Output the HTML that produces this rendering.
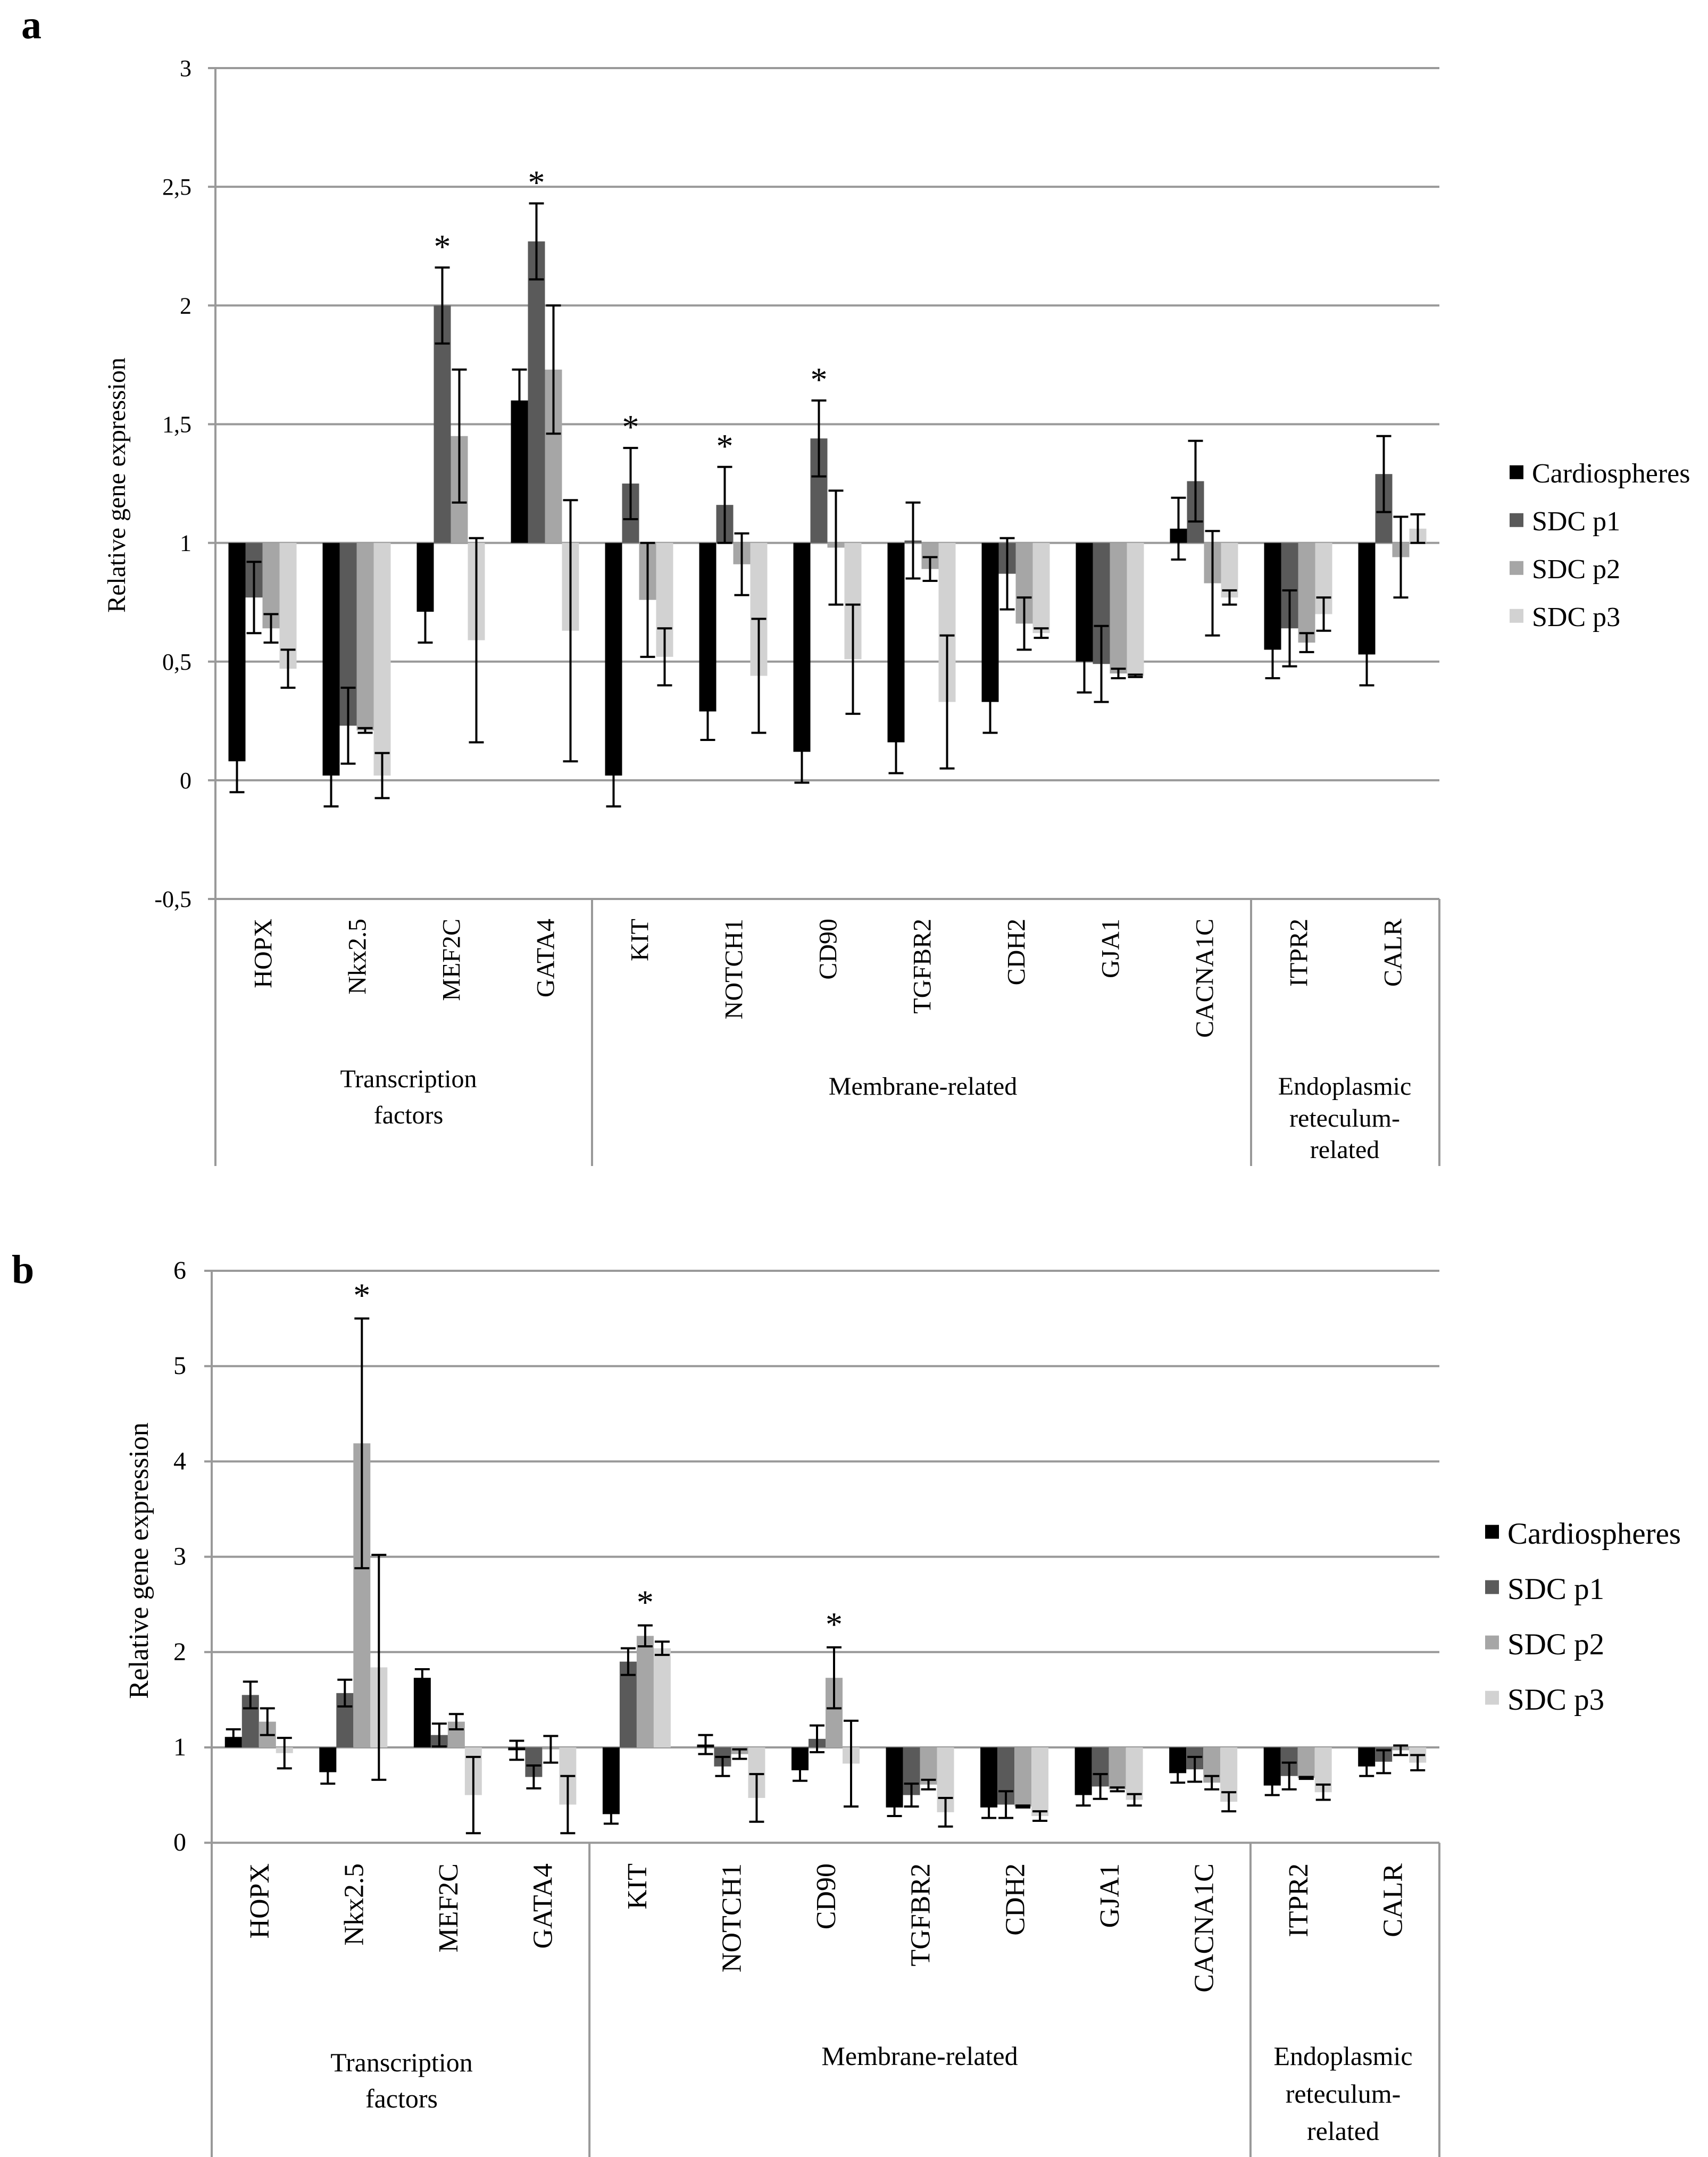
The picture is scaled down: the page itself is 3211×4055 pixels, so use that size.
<!DOCTYPE html>
<html><head><meta charset="utf-8">
<style>
html,body{margin:0;padding:0;background:#fff;}
svg{display:block;font-family:"Liberation Serif",serif;}
</style></head>
<body>
<svg id="fig" width="3211" height="4055" viewBox="0 0 3211 4055" xmlns="http://www.w3.org/2000/svg"></svg>
<script>
const categories = ["HOPX","Nkx2.5","MEF2C","GATA4","KIT","NOTCH1","CD90","TGFBR2","CDH2","GJA1","CACNA1C","ITPR2","CALR"];
const seriesNames = ["Cardiospheres","SDC p1","SDC p2","SDC p3"];
// Panel a values and errors
const aCardio = [0.08,0.02,0.71,1.60,0.02,0.29,0.12,0.16,0.33,0.50,1.06,0.55,0.53];
const aP1 = [0.77,0.23,2.00,2.27,1.25,1.16,1.44,1.01,0.87,0.49,1.26,0.64,1.29];
const aP2 = [0.64,0.21,1.45,1.73,0.76,0.91,0.98,0.89,0.66,0.45,0.83,0.58,0.94];
const aP3 = [0.47,0.02,0.59,0.63,0.52,0.44,0.51,0.33,0.62,0.44,0.77,0.70,1.06];
const aCardioErr = [0.13,0.13,0.13,0.13,0.13,0.12,0.13,0.13,0.13,0.13,0.13,0.12,0.13];
const aP1Err = [0.15,0.16,0.16,0.16,0.15,0.16,0.16,0.16,0.15,0.16,0.17,0.16,0.16];
const aP2Err = [0.06,0.01,0.28,0.27,0.24,0.13,0.24,0.05,0.11,0.02,0.22,0.04,0.17];
const aP3Err = [0.08,0.095,0.43,0.55,0.12,0.24,0.23,0.28,0.02,0.005,0.03,0.07,0.06];
const aStars = [[2,1],[3,1],[4,1],[5,1],[6,1]];
const aTicks = [3,2.5,2,1.5,1,0.5,0,-0.5];
const aTickLabels = ["3","2,5","2","1,5","1","0,5","0","-0,5"];
// Panel b
const bCardio = [1.11,0.74,1.73,0.97,0.30,1.03,0.76,0.37,0.37,0.50,0.73,0.60,0.80];
const bP1 = [1.55,1.57,1.13,0.69,1.90,0.80,1.09,0.50,0.40,0.59,0.77,0.70,0.85];
const bP2 = [1.27,4.19,1.27,0.98,2.17,0.93,1.73,0.61,0.38,0.56,0.63,0.68,0.97];
const bP3 = [0.94,1.84,0.50,0.40,2.04,0.47,0.83,0.32,0.28,0.45,0.43,0.53,0.84];
const bCardioErr = [0.08,0.12,0.09,0.10,0.10,0.10,0.11,0.09,0.11,0.11,0.10,0.10,0.10];
const bP1Err = [0.14,0.14,0.12,0.12,0.14,0.10,0.14,0.12,0.14,0.13,0.13,0.14,0.12];
const bP2Err = [0.14,1.31,0.08,0.14,0.11,0.05,0.32,0.05,0.01,0.02,0.07,0.01,0.05];
const bP3Err = [0.16,1.18,0.40,0.30,0.07,0.25,0.45,0.15,0.05,0.06,0.10,0.08,0.08];
const bStars = [[1,2],[4,2],[6,2]];
const bTicks = [6,5,4,3,2,1,0];
const bTickLabels = ["6","5","4","3","2","1","0"];

const colors = ["#000000","#5a5a5a","#a6a6a6","#d2d2d2"];
const NS = "http://www.w3.org/2000/svg";
const svg = document.getElementById('fig');
function el(tag, attrs, parent, text){
  const e = document.createElementNS(NS, tag);
  for (const k in attrs) e.setAttribute(k, attrs[k]);
  if (text !== undefined) e.textContent = text;
  (parent || svg).appendChild(e);
  return e;
}

function drawPanel(cfg){
  const g = el('g', {});
  
  
  const y = v => cfg.y0 + (cfg.vmax - v) * cfg.unit;
  const cw = (cfg.xR - cfg.xL) / categories.length;
  const bw = 32;
  const x = (i, s) => cfg.xL + i * cw + (cw - 4 * bw) / 2 + s * bw;
  const L = el('text', {x: cfg.letterX, y: cfg.letterY, 'font-size': 76, 'font-weight': 'bold'}, g, cfg.letter);
  
  
  cfg.ticks.forEach((t, k) => {
    const ln = el('line', {x1: cfg.xL - 14, x2: cfg.xR, y1: y(t), y2: y(t), stroke: '#999', 'stroke-width': 4}, g);
    
    
    const tx = el('text', {x: cfg.tickX, y: y(t) + 15, 'font-size': cfg.tickFs, 'text-anchor': 'end'}, g, cfg.tickLabels[k]);
    
    
  });
  const ax = el('line', {x1: cfg.xL, x2: cfg.xL, y1: y(cfg.vmax), y2: cfg.bottom, stroke: '#999', 'stroke-width': 4}, g);
  
  
  [4, 11, 13].forEach(i => {
    const s = el('line', {x1: cfg.xL + i * cw, x2: cfg.xL + i * cw, y1: y(cfg.vmin), y2: cfg.bottom, stroke: '#999', 'stroke-width': 4}, g);
    
    
  });
  const yt = el('text', {x: 0, y: 0, 'font-size': cfg.titleFs, 'text-anchor': 'middle', transform: `translate(${cfg.titleX},${cfg.titleY}) rotate(-90)`}, g, 'Relative  gene expression');
  
  
  const vals = cfg.vals, errs = cfg.errs;
  for (let s = 0; s < 4; s++){
    for (let i = 0; i < categories.length; i++){
      const v = vals[s][i];
      const top = Math.min(y(v), y(cfg.base)), h = Math.abs(y(v) - y(cfg.base));
      const r = el('rect', {x: x(i, s), y: top, width: bw, height: Math.max(h, 1), fill: colors[s]}, g);
      
      
    }
  }
  for (let s = 0; s < 4; s++){
    for (let i = 0; i < categories.length; i++){
      const v = vals[s][i], e = errs[s][i];
      const cx = x(i, s) + bw / 2;
      const eg = el('g', {stroke: '#000', 'stroke-width': 4}, g);
      
      
      el('line', {x1: cx, x2: cx, y1: y(v + e), y2: y(v - e)}, eg);
      el('line', {x1: cx - 14, x2: cx + 14, y1: y(v + e), y2: y(v + e)}, eg);
      el('line', {x1: cx - 14, x2: cx + 14, y1: y(v - e), y2: y(v - e)}, eg);
    }
  }
  cfg.stars.forEach(([i, s]) => {
    const v = vals[s][i] + errs[s][i];
    const st = el('text', {x: x(i, s) + bw / 2, y: y(v) - cfg.starOff, 'font-size': 64, 'text-anchor': 'middle'}, g, '*');
    
    
  });
  categories.forEach((c, i) => {
    const cx = cfg.xL + i * cw + cw / 2;
    const t = el('text', {x: 0, y: 0, 'font-size': cfg.catFs, 'text-anchor': 'end', transform: `translate(${cx + cfg.catFs * 0.35},${cfg.catTop}) rotate(-90)`}, g, c);
    
    
  });
  cfg.groups.forEach(gr => {
    gr.lines.forEach((ln, k) => {
      const t = el('text', {x: gr.x, y: gr.ys[k], 'font-size': cfg.groupFs, 'text-anchor': 'middle'}, g, ln);
      
      
    });
  });
  seriesNames.forEach((n, k) => {
    const ly = cfg.legY + k * cfg.legDy;
    const lg = el('g', {}, g);
    
    
    el('rect', {x: cfg.legX, y: ly - cfg.legFs * 0.62, width: 26, height: 26, fill: colors[k]}, lg);
    el('text', {x: cfg.legX + 42, y: ly, 'font-size': cfg.legFs}, lg, n);
  });
}

drawPanel({name:'panel-a', letter:'a', letterX:40, letterY:72, y0:128, unit:446.3, vmax:3, vmin:-0.5, base:1,
  xL:405, xR:2706, bottom:2192, ticks:aTicks, tickLabels:aTickLabels, tickX:360, tickFs:44,
  titleX:235, titleY:912, titleFs:48, vals:[aCardio,aP1,aP2,aP3], errs:[aCardioErr,aP1Err,aP2Err,aP3Err],
  stars:aStars, starOff:18, catTop:1727, catFs:48, groupFs:48,
  groups:[{x:768, lines:['Transcription','factors'], ys:[2044,2112]},
          {x:1735, lines:['Membrane-related'], ys:[2058]},
          {x:2528, lines:['Endoplasmic','reteculum-','related'], ys:[2058,2118,2177]}],
  legX:2838, legY:907, legDy:90, legFs:52});
drawPanel({name:'panel-b', letter:'b', letterX:22, letterY:2412, y0:2389, unit:179.2, vmax:6, vmin:0, base:1,
  xL:398, xR:2706, bottom:4055, ticks:bTicks, tickLabels:bTickLabels, tickX:350, tickFs:48,
  titleX:278, titleY:2934, titleFs:52, vals:[bCardio,bP1,bP2,bP3], errs:[bCardioErr,bP1Err,bP2Err,bP3Err],
  stars:bStars, starOff:22, catTop:3503, catFs:52, groupFs:50,
  groups:[{x:755, lines:['Transcription','factors'], ys:[3894,3962]},
          {x:1729, lines:['Membrane-related'], ys:[3882]},
          {x:2525, lines:['Endoplasmic','reteculum-','related'], ys:[3882,3953,4023]}],
  legX:2792, legY:2902, legDy:104, legFs:57});
</script>
</body></html>
